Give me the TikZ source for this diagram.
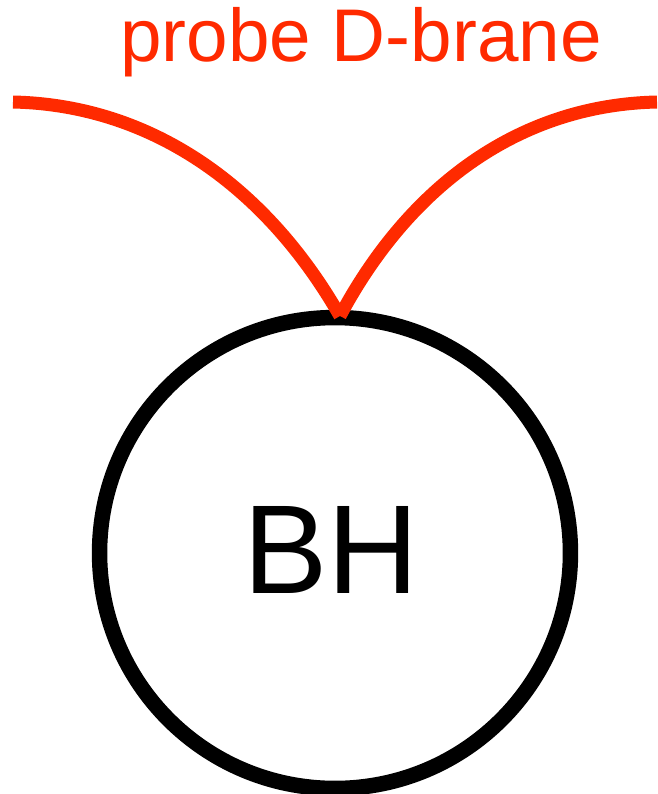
\documentclass[tikz,border=0pt]{standalone}
\usepackage{fontspec}
\setmainfont{Liberation Sans}
\usepackage{xcolor}
\usepackage{tikz}
\usetikzlibrary{positioning,calc}

\definecolor{braneRed}{HTML}{FF2A00}

\begin{document}
\begin{tikzpicture}[
  x=0.02cm, y=-0.02cm,
  horizon/.style={circle, draw=black, line width=8.8pt, minimum size=9.42cm, inner sep=0pt},
  brane/.style={draw=braneRed, line width=7.4pt, line cap=butt},
  branelabel/.style={text=braneRed, font=\fontsize{42.5}{48}\selectfont, anchor=base},
  bhlabel/.style={font=\fontsize{72}{80}\selectfont, anchor=base},
]
\useasboundingbox (0,0) rectangle (657,794);

% black hole
\node[horizon] (bh) at (335,553) {};
\node[bhlabel] (bhtext) at (331,593) {BH};

% probe brane hanging down to the horizon
\coordinate (lend) at (13,102);
\coordinate (rend) at (657,102);
\coordinate (cusp) at (340,316);
\draw[brane] (lend) .. controls (150,105) and (265,185) .. (cusp);
\draw[brane] (cusp) .. controls (410,185) and (520,105) .. (rend);

\node[branelabel] (probe) at (361,62) {probe D-brane};
\end{tikzpicture}
\end{document}
